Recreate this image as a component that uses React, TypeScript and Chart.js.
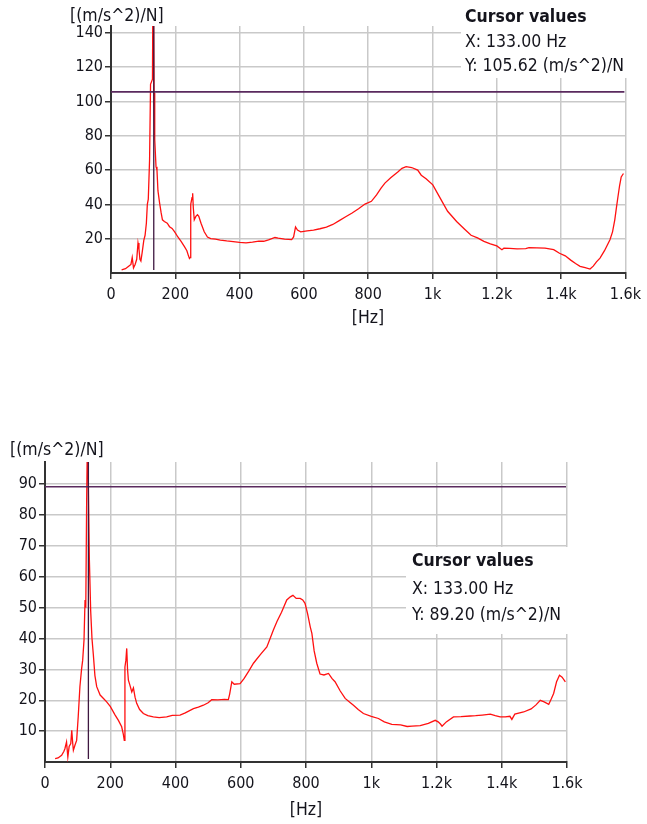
import React, { useEffect, useRef } from 'react';
import { Chart, registerables } from 'chart.js';
Chart.register(...registerables);

const FONT = "'DejaVu Sans Condensed', 'Liberation Sans', sans-serif";

const xTickValues = [0, 200, 400, 600, 800, 1000, 1200, 1400, 1600];
const xTickLabels = ['0', '200', '400', '600', '800', '1k', '1.2k', '1.4k', '1.6k'];
const topYTicks = [20, 40, 60, 80, 100, 120, 140];
const bottomYTicks = [10, 20, 30, 40, 50, 60, 70, 80, 90];

const topFreq = [33, 45, 55, 62, 66, 70, 75, 80, 84, 87, 90, 93, 97, 102, 106, 110, 113, 116, 120, 123, 127, 129, 131, 132, 134, 136, 138, 140, 143, 146, 151, 156, 160, 166, 175, 182, 190, 198, 208, 218, 228, 236, 241, 244, 246, 248, 252, 254, 256, 259, 264, 269, 273, 280, 290, 300, 310, 325, 340, 360, 380, 400, 420, 440, 460, 475, 490, 510, 520, 540, 562, 568, 574, 580, 590, 610, 630, 650, 670, 690, 710, 730, 750, 770, 790, 810, 826, 840, 852, 870, 893, 905, 918, 935, 954, 965, 980, 1001, 1020, 1047, 1075, 1100, 1120, 1140, 1160, 1180, 1200, 1216, 1222, 1240, 1263, 1290, 1300, 1325, 1350, 1377, 1395, 1413, 1430, 1445, 1459, 1475, 1490, 1500, 1510, 1521, 1535, 1552, 1560, 1567, 1572, 1577, 1582, 1587, 1594];
const topAmp = [1.8, 2.5, 4, 5, 9, 3, 5, 8, 17.5, 14, 8, 7, 12, 19, 22, 29, 40, 43, 66, 110, 112, 113, 190, 190, 105, 78, 70, 62, 60, 48, 41, 35, 31, 30, 29, 27, 26, 24, 21, 18.4, 15.5, 13, 10, 8.5, 9, 40, 44, 46.5, 38, 31, 33, 34, 33, 29, 24, 21, 20, 19.8, 19.2, 18.7, 18.3, 17.8, 17.6, 18, 18.6, 18.5, 19.3, 20.7, 20.3, 19.8, 19.5, 21, 26.8, 25, 24, 24.5, 25, 25.8, 26.8, 28.3, 30.5, 32.8, 35, 37.5, 40.2, 41.8, 45.5, 49.5, 52.4, 55.5, 59, 61, 62, 61.5, 60, 57, 55, 51.4, 45, 36, 30, 25.5, 22, 20.5, 18.4, 17, 15.8, 13.6, 14.5, 14.3, 14.1, 14.2, 14.8, 14.6, 14.5, 13.6, 11.5, 10, 7.5, 5.5, 3.9, 3.2, 2.3, 4, 6.5, 8.7, 13, 19.4, 24, 31, 38, 44.6, 51, 56, 58];

const bottomFreq = [31, 40, 51, 58, 61, 66, 70, 74, 79, 82, 85, 87, 92, 97, 102, 107, 112, 115.5, 119.6, 122.7, 125, 127.8, 130, 133, 136, 140, 144, 148, 153, 158.5, 169, 180, 189, 200, 215, 225, 235, 240, 243, 245, 248, 250.5, 253, 255.6, 260, 266, 271, 276, 281, 290, 301.5, 315, 332, 350, 373, 390, 414, 430, 455, 470, 485.5, 500, 511, 530, 550, 562, 566, 572.6, 580, 598, 610, 625, 639, 660, 680, 690, 700, 711, 725, 741, 752, 760, 770, 782, 790, 797, 805, 813, 818, 825, 833, 843, 855, 869, 880, 889, 905, 920, 935, 945.5, 960, 976, 1000, 1022, 1040, 1063, 1090, 1110, 1125, 1150, 1175, 1196, 1205, 1212, 1217, 1230, 1252, 1275, 1303, 1320, 1340, 1365, 1380, 1395, 1411, 1425, 1431, 1440, 1467, 1490, 1505, 1518, 1530, 1544, 1552, 1559, 1568, 1577, 1585, 1595];
const bottomAmp = [1.1, 1.3, 2.2, 3.5, 4.3, 6.5, 1.6, 5, 6, 10.3, 6, 3.8, 5.5, 7, 15, 24.4, 30, 33, 39.5, 52.5, 50, 86, 105, 89.2, 65.5, 49, 40, 35, 28, 24.4, 21.7, 20.5, 19.5, 18, 15.2, 13.5, 11.4, 9, 7, 30.8, 33, 36.8, 30, 26.5, 25, 22.7, 24, 21, 19, 17, 15.7, 15, 14.6, 14.4, 14.6, 15.1, 15.2, 15.9, 17.3, 17.8, 18.4, 19.2, 20.2, 20.1, 20.3, 20.2, 22, 26, 25.2, 25.4, 27, 29.5, 32, 34.8, 37.3, 40, 42.8, 45.5, 48.5, 52.5, 53.5, 54, 53, 53, 52.5, 51.4, 48, 43.8, 41.7, 36, 32, 28.5, 28.2, 28.7, 27, 26, 23, 20.6, 19.3, 18.4, 17, 15.7, 14.8, 14.1, 13, 12.2, 12, 11.5, 11.6, 11.8, 12.5, 13.5, 13, 12.3, 11.6, 13, 14.6, 14.7, 14.9, 15, 15.2, 15.5, 15, 14.6, 14.6, 14.8, 13.8, 15.5, 16.2, 17.2, 18.5, 20, 19.5, 18.7, 20.5, 22.2, 26, 28.1, 27.5, 26];

const cursorX = [133, 133];
const cursorY = [105.62, 89.2];
const cursorTitle = 'Cursor values';
const cursorXText = ['X: 133.00 Hz', 'X: 133.00 Hz'];
const cursorYText = ['Y: 105.62 (m/s^2)/N', 'Y: 89.20 (m/s^2)/N'];
const yUnitLabel = '[(m/s^2)/N]';
const xUnitLabel = '[Hz]';

type Layout = {
  top: number; height: number; padL: number; padR: number; padT: number; padB: number;
  yWidth: number; xHeight: number; yMax: number;
  yTitle: [number, number]; xTitle: [number, number];
  box: [number, number, number, number]; text: [number, number, number, number];
};

const layouts: Layout[] = [
  { top: 0, height: 340, padL: 61, padR: 18, padT: 26, padB: 27, yWidth: 50, xHeight: 40, yMax: 144,
    yTitle: [70, 16], xTitle: [368, 318], box: [461, 0, 186, 78], text: [465, 17, 42, 66] },
  { top: 430, height: 394, padL: 5, padR: 80, padT: 32, padB: 22, yWidth: 40, xHeight: 40, yMax: 97.2,
    yTitle: [10, 20], xTitle: [306, 380], box: [406, 117, 172, 87], text: [412, 131, 159, 185] },
];

const TEXT_COLOR = '#14141c';
const TEXT_SIZE = 17.5;
const TICK_SIZE = 16;

function Panel({ idx }: { idx: number }) {
  const ref = useRef<HTMLCanvasElement | null>(null);
  useEffect(() => {
    const L = layouts[idx];
    const freq = idx === 0 ? topFreq : bottomFreq;
    const amp = idx === 0 ? topAmp : bottomAmp;
    const yTicks = idx === 0 ? topYTicks : bottomYTicks;
    const data = freq.map((f, i) => ({ x: f, y: amp[i] }));
    const plugin = {
      id: 'cursorPlugin' + idx,
      afterDatasetsDraw(chart: any) {
        const { ctx, chartArea, scales } = chart;
        const xs = scales.x.getPixelForValue(cursorX[idx]);
        const ys = scales.y.getPixelForValue(cursorY[idx]);
        ctx.save();
        ctx.strokeStyle = '#5a2a5e';
        ctx.lineWidth = 1.6;
        ctx.beginPath();
        ctx.moveTo(chartArea.left, ys);
        ctx.lineTo(chartArea.right - 1, ys);
        ctx.stroke();
        ctx.strokeStyle = '#3e1840';
        ctx.lineWidth = 1.3;
        ctx.beginPath();
        ctx.moveTo(xs, chartArea.top);
        ctx.lineTo(xs, chartArea.bottom - 3);
        ctx.stroke();
        ctx.restore();
      },
      afterDraw(chart: any) {
        const { ctx } = chart;
        ctx.save();
        ctx.fillStyle = '#ffffff';
        ctx.fillRect(L.box[0], L.box[1], L.box[2], L.box[3]);
        ctx.fillStyle = TEXT_COLOR;
        ctx.textBaseline = 'middle';
        ctx.textAlign = 'left';
        ctx.font = `bold ${TEXT_SIZE}px ${FONT}`;
        ctx.fillText(cursorTitle, L.text[0], L.text[1]);
        ctx.font = `${TEXT_SIZE}px ${FONT}`;
        ctx.fillText(cursorXText[idx], L.text[0], L.text[2]);
        ctx.fillText(cursorYText[idx], L.text[0], L.text[3]);
        ctx.fillText(yUnitLabel, L.yTitle[0], L.yTitle[1]);
        ctx.textAlign = 'center';
        ctx.fillText(xUnitLabel, L.xTitle[0], L.xTitle[1]);
        ctx.restore();
      },
    };
    const chart = new Chart(ref.current as HTMLCanvasElement, {
      type: 'line',
      data: {
        datasets: [{
          data,
          borderColor: '#ff1010',
          borderWidth: 1.3,
          pointRadius: 0,
          tension: 0,
          fill: false,
        }],
      },
      options: {
        animation: false,
        responsive: false,
        events: [],
        layout: { padding: { left: L.padL, right: L.padR, top: L.padT, bottom: L.padB } },
        plugins: { legend: { display: false }, tooltip: { enabled: false }, title: { display: false } },
        scales: {
          x: {
            type: 'linear',
            min: 0,
            max: 1600,
            afterBuildTicks: (s: any) => { s.ticks = xTickValues.map((v) => ({ value: v })); },
            afterFit: (s: any) => { s.height = L.xHeight; },
            grid: { color: '#c9c9c9', lineWidth: 1.5, tickColor: '#333333', tickLength: 6, tickWidth: 1.5 },
            border: { color: '#333333', width: 2 },
            ticks: {
              autoSkip: false, maxRotation: 0, padding: 6, color: TEXT_COLOR,
              font: { family: FONT, size: TICK_SIZE },
              callback: (v: any) => xTickLabels[xTickValues.indexOf(Number(v))] ?? String(v),
            },
          },
          y: {
            type: 'linear',
            min: 0,
            max: L.yMax,
            afterBuildTicks: (s: any) => { s.ticks = yTicks.map((v) => ({ value: v })); },
            afterFit: (s: any) => { s.width = L.yWidth; },
            grid: { color: '#c9c9c9', lineWidth: 1.5, tickColor: '#333333', tickLength: 6, tickWidth: 1.5 },
            border: { color: '#333333', width: 2 },
            ticks: { padding: 2, color: TEXT_COLOR, font: { family: FONT, size: TICK_SIZE } },
          },
        },
      },
      plugins: [plugin],
    } as any);
    return () => chart.destroy();
  }, [idx]);
  const L = layouts[idx];
  return (
    <canvas
      ref={ref}
      width={647}
      height={L.height}
      style={{ position: 'absolute', left: 0, top: L.top, width: 647, height: L.height, display: 'block' }}
    />
  );
}

export default function App() {
  useEffect(() => {
    document.body.style.margin = '0';
    document.body.style.background = '#ffffff';
  }, []);
  return (
    <div style={{ position: 'relative', width: 647, height: 824, background: '#fff', overflow: 'hidden' }}>
      <Panel idx={0} />
      <Panel idx={1} />
    </div>
  );
}
